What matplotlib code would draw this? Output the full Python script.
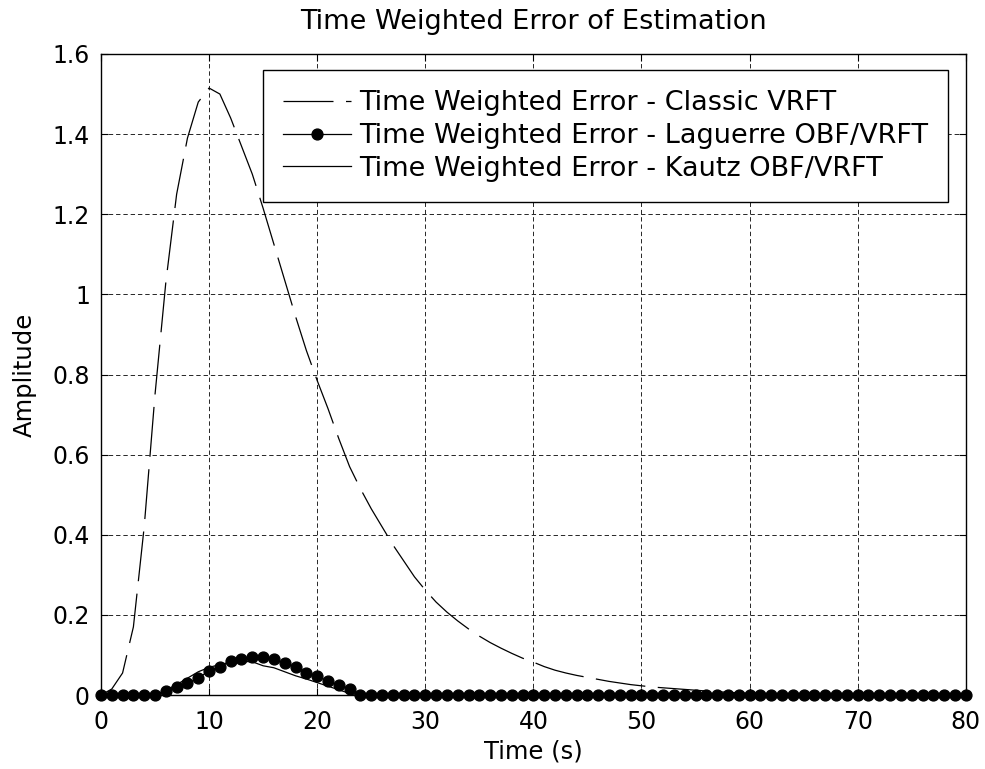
import matplotlib
matplotlib.use('Agg')
from matplotlib import pyplot as plt

# time axis (s), one sample per second
t = list(range(0, 81))

classic = [0.0, 0.015, 0.055, 0.17, 0.42, 0.75, 1.03, 1.25, 1.39, 1.48,
           1.515, 1.50, 1.44, 1.37, 1.30, 1.215, 1.125, 1.035, 0.945, 0.86,
           0.785, 0.715, 0.64, 0.57, 0.515, 0.465, 0.42, 0.375, 0.335, 0.295,
           0.262, 0.232, 0.207, 0.185, 0.165, 0.147, 0.131, 0.117, 0.104, 0.092,
           0.082, 0.071, 0.062, 0.055, 0.049, 0.044, 0.039, 0.034, 0.030, 0.026,
           0.023, 0.020, 0.018, 0.016, 0.014, 0.012, 0.010, 0.008, 0.007, 0.005,
           0.004, 0.003, 0.002, 0.002, 0.001] + [0.0] * 16

laguerre = [0.0] * 6 + [0.011, 0.020, 0.029, 0.042, 0.061, 0.071, 0.084, 0.090,
                        0.094, 0.094, 0.089, 0.079, 0.071, 0.056, 0.048, 0.034,
                        0.025, 0.016] + [0.0] * 57

kautz = [0.0] * 6 + [0.012, 0.026, 0.042, 0.058, 0.069, 0.076, 0.082, 0.084,
                     0.083, 0.073, 0.068, 0.058, 0.048, 0.040, 0.031, 0.022,
                     0.013, 0.004] + [0.0] * 57

labels = ['Time Weighted Error - Classic VRFT',
          'Time Weighted Error - Laguerre OBF/VRFT',
          'Time Weighted Error - Kautz OBF/VRFT']

xticks = [0, 10, 20, 30, 40, 50, 60, 70, 80]
yticks = [0, 0.2, 0.4, 0.6, 0.8, 1.0, 1.2, 1.4, 1.6]
yticklabels = ['0', '0.2', '0.4', '0.6', '0.8', '1', '1.2', '1.4', '1.6']

plt.rcParams['font.family'] = ['DejaVu Sans']

fig = plt.figure(figsize=(9.85, 7.69), dpi=100)
ax = fig.add_axes([0.1025, 0.0962, 0.878, 0.8336])

ax.plot(t, classic, color='k', lw=0.9, dashes=(40, 10), label=labels[0], clip_on=False)
ax.plot(t, laguerre, color='k', lw=0.9, marker='o', markersize=7.8, label=labels[1], clip_on=False)
ax.plot(t, kautz, color='k', lw=0.9, label=labels[2], clip_on=False)

ax.set_xlim(0, 80)
ax.set_ylim(0, 1.6)
ax.set_xticks(xticks)
ax.set_yticks(yticks)
ax.set_yticklabels(yticklabels)
ax.tick_params(direction='in', length=5, width=0.8, labelsize=17, pad=11,
               top=True, right=True)
ax.tick_params(axis='y', pad=8)
for s in ax.spines.values():
    s.set_linewidth(1.0)

# MATLAB style dashed grid
ax.grid(True, color='0.15', lw=0.7, linestyle=(0, (4.5, 3)))
ax.set_axisbelow(True)

ax.set_title('Time Weighted Error of Estimation', fontsize=19.5, pad=18)
ax.set_xlabel('Time (s)', fontsize=17.5, labelpad=4)
ax.set_ylabel('Amplitude', fontsize=17.5, labelpad=11)

leg = ax.legend(loc='upper right', bbox_to_anchor=(948 / 985, 1 - 70 / 769),
                bbox_transform=fig.transFigure, fontsize=19.5, frameon=True,
                fancybox=False, framealpha=1, edgecolor='k', borderaxespad=0,
                handlelength=2.5, handletextpad=0.3, labelspacing=0.25,
                borderpad=0.75)
leg.get_frame().set_linewidth(1.0)

fig.savefig('out.png', dpi=100)
